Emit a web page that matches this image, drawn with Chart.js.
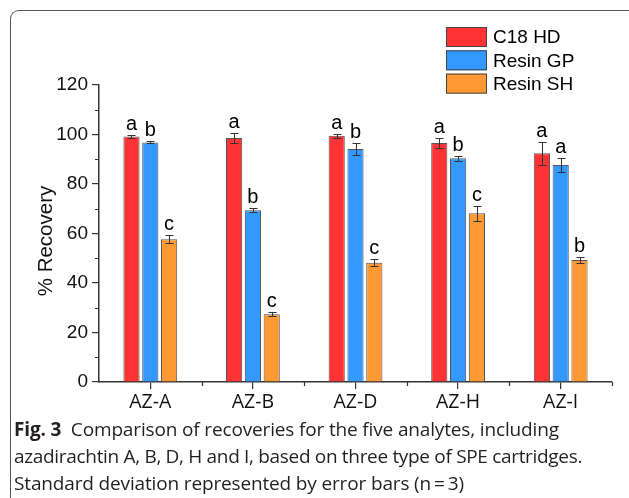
<!DOCTYPE html>
<html>
<head>
<meta charset="utf-8">
<script src="https://cdn.jsdelivr.net/npm/chart.js@4.4.1/dist/chart.umd.min.js"></script>
<style>
  html, body { margin: 0; padding: 0; background: #fff; }
  #wrap { position: relative; width: 629px; height: 498px; overflow: hidden; }
  #frame { position: absolute; left: 10px; top: 10px; width: 640px; height: 520px;
           border-top: 1px solid #555; border-left: 1px solid #555; border-top-left-radius: 9px; }
  #chart { position: absolute; left: 0; top: 0; }
  .cap { position: absolute; left: 14px; font-family: "Open Sans", sans-serif; font-size: 19px;
         color: #231f20; white-space: nowrap; line-height: 26px; letter-spacing: -0.15px; }
</style>
</head>
<body>
<div id="wrap">
  <div id="frame"></div>
  <canvas id="chart" width="629" height="420"></canvas>
  <div class="cap" style="top:416px"><b>Fig. 3</b>&nbsp; Comparison of recoveries for the five analytes, including</div>
  <div class="cap" style="top:443px; letter-spacing:-0.32px">azadirachtin A, B, D, H and I, based on three type of SPE cartridges.</div>
  <div class="cap" style="top:470px">Standard deviation represented by error bars (n&thinsp;=&thinsp;3)</div>
</div>
<script>
// data
const categories = ['AZ-A', 'AZ-B', 'AZ-D', 'AZ-H', 'AZ-I'];
const c18 = [99.2, 98.6, 99.5, 96.6, 92.4];
const c18Err = [0.5, 2.1, 0.9, 1.9, 4.7];
const resinGP = [96.8, 69.4, 94.1, 90.4, 87.7];
const resinGPErr = [0.4, 0.9, 2.4, 1.1, 2.7];
const resinSH = [57.7, 27.4, 48.2, 68.2, 49.3];
const resinSHErr = [1.5, 0.9, 1.4, 3.1, 1.4];
const c18Letters = ['a', 'a', 'a', 'a', 'a'];
const resinGPLetters = ['b', 'b', 'b', 'b', 'a'];
const resinSHLetters = ['c', 'c', 'c', 'c', 'b'];
const yTicks = [0, 20, 40, 60, 80, 100, 120];
const yTitle = '% Recovery';

const errs = [c18Err, resinGPErr, resinSHErr];
const letters = [c18Letters, resinGPLetters, resinSHLetters];

const axisColor = '#333';
const arial = '"Liberation Sans", Arial, sans-serif';

// error bars, letters, minor ticks, axis title and legend
const extras = {
  id: 'extras',
  afterDatasetsDraw(chart) {
    const ctx = chart.ctx;
    const y = chart.scales.y;
    const x = chart.scales.x;
    ctx.save();
    // error bars
    ctx.strokeStyle = '#333';
    ctx.lineWidth = 1;
    chart.data.datasets.forEach((ds, di) => {
      const meta = chart.getDatasetMeta(di);
      meta.data.forEach((bar, i) => {
        const v = ds.data[i], e = errs[di][i];
        const yt = Math.round(y.getPixelForValue(v + e)) + 0.5;
        const yb = Math.round(y.getPixelForValue(v - e)) + 0.5;
        const cx = Math.round(bar.x) + 0.5;
        ctx.beginPath();
        ctx.moveTo(cx, yt); ctx.lineTo(cx, yb);
        ctx.moveTo(cx - 4, yt); ctx.lineTo(cx + 4, yt);
        ctx.moveTo(cx - 4, yb); ctx.lineTo(cx + 4, yb);
        ctx.stroke();
        // significance letter
        ctx.fillStyle = '#000';
        ctx.font = '20px ' + arial;
        ctx.textAlign = 'center';
        ctx.textBaseline = 'alphabetic';
        ctx.fillText(letters[di][i], bar.x, yt - 6);
      });
    });
    // minor ticks on y
    ctx.beginPath();
    for (let v = 10; v < 120; v += 20) {
      const py = Math.round(y.getPixelForValue(v)) + 0.5;
      ctx.moveTo(x.left - 4, py); ctx.lineTo(x.left, py);
    }
    // minor ticks on x at category boundaries
    for (let i = 1; i <= categories.length; i++) {
      const px = Math.round(x.left + (x.right - x.left) * i / categories.length) + 0.5;
      ctx.moveTo(px, y.bottom); ctx.lineTo(px, y.bottom + 4);
    }
    ctx.strokeStyle = axisColor;
    ctx.lineWidth = 1.2;
    ctx.stroke();

    // y axis title
    ctx.save();
    ctx.translate(46, 241);
    ctx.rotate(-Math.PI / 2);
    ctx.fillStyle = '#111';
    ctx.font = '20.5px ' + arial;
    ctx.textAlign = 'center';
    ctx.textBaseline = 'middle';
    ctx.fillText(yTitle, 0, 0);
    ctx.restore();

    // legend
    chart.data.datasets.forEach((ds, di) => {
      const bx = 446, by = 27 + di * 23.3;
      ctx.fillStyle = ds.backgroundColor;
      ctx.fillRect(bx, by, 41, 20);
      ctx.strokeStyle = '#444';
      ctx.lineWidth = 1;
      ctx.strokeRect(bx + 0.5, by + 0.5, 40, 19);
      ctx.fillStyle = '#000';
      ctx.font = '19px ' + arial;
      ctx.textAlign = 'left';
      ctx.textBaseline = 'middle';
      ctx.fillText(ds.label, 493, by + 11);
    });
    ctx.restore();
  }
};

new Chart(document.getElementById('chart'), {
  type: 'bar',
  data: {
    labels: categories,
    datasets: [
      { label: 'C18 HD', data: c18, backgroundColor: '#ff3333', borderColor: '#555', borderWidth: 1 },
      { label: 'Resin GP', data: resinGP, backgroundColor: '#3399ff', borderColor: '#555', borderWidth: 1 },
      { label: 'Resin SH', data: resinSH, backgroundColor: '#ff9933', borderColor: '#555', borderWidth: 1 }
    ]
  },
  options: {
    responsive: false,
    animation: false,
    events: [],
    categoryPercentage: 0.55,
    barPercentage: 0.86,
    layout: { padding: { left: 0, top: 85, right: 17, bottom: 0 } },
    plugins: { legend: { display: false }, tooltip: { enabled: false } },
    scales: {
      x: {
        afterFit(scale) { scale.height = 38; },
        grid: { display: true, drawOnChartArea: false, offset: false, tickLength: 7, color: axisColor, lineWidth: 1.2 },
        border: { display: true, color: axisColor, width: 1.5 },
        ticks: { color: '#111', padding: 2, font: { family: '"Open Sans", sans-serif', size: 19.5 } }
      },
      y: {
        min: 0,
        max: 120,
        afterFit(scale) { scale.width = 99; },
        afterBuildTicks(scale) { scale.ticks = yTicks.map(v => ({ value: v })); },
        grid: { display: true, drawOnChartArea: false, tickLength: 7, color: axisColor, lineWidth: 1.2 },
        border: { display: true, color: axisColor, width: 1.5 },
        ticks: { color: '#111', padding: 4, font: { family: arial, size: 19 } }
      }
    }
  },
  plugins: [extras]
});
</script>
</body>
</html>
